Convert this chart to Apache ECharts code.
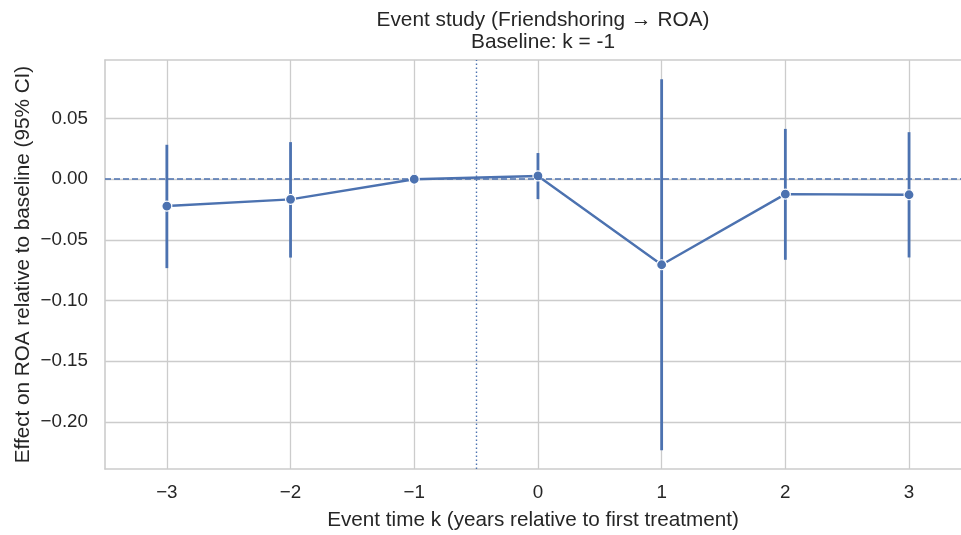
<!DOCTYPE html>
<html>
<head>
<meta charset="utf-8">
<title>event study</title>
<style>
  html,body{margin:0;padding:0;background:#fff;}
  #chart{width:961px;height:535px;}
</style>
<script src="https://cdn.jsdelivr.net/npm/echarts@6/dist/echarts.min.js"></script>
</head>
<body>
<div id="chart"></div>
<script>
// event time k and the estimates
var eventK   = [-3, -2, -1, 0, 1, 2, 3];
var estimate = [-0.0221, -0.0166, 0.0, 0.0027, -0.0705, -0.0123, -0.0128];
var ciLow    = [-0.0733, -0.0646, null, -0.0164, -0.2235, -0.0664, -0.0645];
var ciHigh   = [0.0284, 0.0306, null, 0.0216, 0.0825, 0.0415, 0.0388];
var xTicks   = [-3, -2, -1, 0, 1, 2, 3];
var yTicks   = [-0.20, -0.15, -0.10, -0.05, 0.00, 0.05];
var treatStart = -0.5;   // dotted line between k=-1 and k=0

var blue = '#4c72b0';
var txt = '#262626';
var spine = '#cccccc';
var font = '"Liberation Sans", Arial, sans-serif';

function minus(s){ return String(s).replace('-', '\u2212'); }

var pts = [], bars = [];
for (var i = 0; i < eventK.length; i++) {
  pts.push([eventK[i], estimate[i]]);
  if (ciLow[i] !== null) bars.push([eventK[i], ciLow[i], ciHigh[i]]);
}

var myChart = echarts.init(document.getElementById('chart'));
myChart.setOption({
  animation: false,
  backgroundColor: '#fff',
  title: {
    text: 'Event study (Friendshoring \u2192 ROA)\nBaseline: k = -1',
    left: 538, top: 4, textAlign: 'center',
    textStyle: { fontFamily: font, fontSize: 20.8, fontWeight: 'normal', color: txt, lineHeight: 22 }
  },
  grid: { left: 105, top: 60, width: 856, height: 409, outerBoundsMode: 'none', containLabel: false },
  xAxis: [{
    type: 'value', min: -3.5, max: 3.42,
    name: 'Event time k (years relative to first treatment)',
    nameLocation: 'middle', nameGap: 41,
    nameTextStyle: { fontFamily: font, fontSize: 20.7, color: txt },
    axisLine: { show: true, onZero: false, lineStyle: { color: spine, width: 1.6 } },
    axisTick: { show: false, customValues: xTicks },
    axisLabel: { customValues: xTicks, margin: 14, fontFamily: font, fontSize: 18.8, color: txt,
      formatter: function(v){ return minus(v); } },
    splitLine: { show: true, lineStyle: { color: spine, width: 1.3 } }
  }, {
    // top spine only
    type: 'value', position: 'top', min: -3.5, max: 3.42,
    axisLine: { show: true, onZero: false, lineStyle: { color: spine, width: 1.6 } },
    axisTick: { show: false }, axisLabel: { show: false }, splitLine: { show: false }
  }],
  yAxis: {
    type: 'value', min: -0.2389, max: 0.0983,
    name: 'Effect on ROA relative to baseline (95% CI)',
    nameLocation: 'middle', nameGap: 71, nameMoveOverlap: false,
    nameTextStyle: { fontFamily: font, fontSize: 20.7, color: txt },
    axisLine: { show: true, onZero: false, lineStyle: { color: spine, width: 1.6 } },
    axisTick: { show: false, customValues: yTicks },
    axisLabel: { customValues: yTicks, margin: 17, fontFamily: font, fontSize: 18.8, color: txt,
      formatter: function(v){ return minus(v.toFixed(2)); } },
    splitLine: { show: true, lineStyle: { color: spine, width: 1.3 } }
  },
  series: [
    {
      type: 'custom',
      data: bars,
      encode: { x: 0, y: [1, 2] },
      z: 2,
      renderItem: function(params, api){
        var hi = api.coord([api.value(0), api.value(2)]);
        var lo = api.coord([api.value(0), api.value(1)]);
        return { type: 'line', shape: { x1: hi[0], y1: hi[1], x2: lo[0], y2: lo[1] },
          style: { stroke: blue, lineWidth: 2.8 } };
      }
    },
    {
      type: 'line',
      data: pts,
      z: 3,
      symbol: 'circle', symbolSize: 10,
      lineStyle: { color: blue, width: 2.4 },
      itemStyle: { color: blue, borderColor: '#fff', borderWidth: 1.2 },
      markLine: {
        silent: true, symbol: 'none', label: { show: false },
        data: [
          { yAxis: 0, lineStyle: { color: blue, type: [6, 3], width: 1.5 } },
          { xAxis: treatStart, lineStyle: { color: blue, type: [1.5, 2.5], width: 1.4 } }
        ]
      }
    }
  ]
});
</script>
</body>
</html>
